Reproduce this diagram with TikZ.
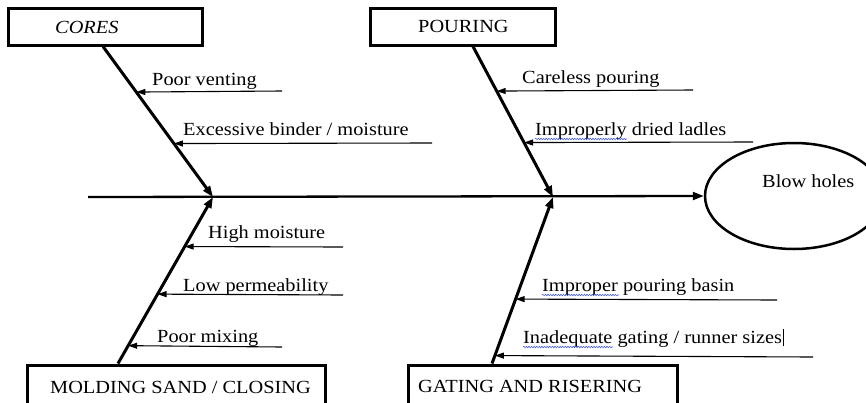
\documentclass[tikz,border=0pt]{standalone}
\usepackage{fontspec}
\setmainfont{Liberation Serif}[FakeStretch=1.1]
\usetikzlibrary{arrows.meta,shapes.geometric,calc,decorations.pathmorphing}
\definecolor{squig}{RGB}{70,90,220}
\begin{document}
\begin{tikzpicture}[x=1pt,y=-1pt,
  lbl/.style={inner sep=0pt,anchor=base west,font=\fontsize{18.5}{20}\selectfont},
  catbox/.style={draw,line width=3pt,inner sep=0pt},
  spine/.style={line width=3pt,-{Triangle[length=11pt,width=8pt]}},
  branch/.style={line width=1.1pt,-{Triangle[length=9pt,width=6pt]}},
  mainline/.style={line width=2.3pt,-{Triangle[length=11pt,width=8pt]}},
  wavy/.style={squig,line width=0.6pt,decorate,decoration={snake,amplitude=0.7pt,segment length=2.6pt}}]
\useasboundingbox (0,0) rectangle (866,402);
% category boxes
\node[catbox,minimum width=194pt,minimum height=37pt] (cores) at (105,26.5) {};
\node[catbox,minimum width=185pt,minimum height=37pt] (pour) at (462.5,26.5) {};
\node[catbox,minimum width=298pt,minimum height=50pt] (mold) at (176,390) {};
\node[catbox,minimum width=269pt,minimum height=50pt] (gate) at (542.5,390) {};
\node[lbl] (tcores) at (55,33) {\textit{CORES}};
\node[lbl] (tpour) at (418,32) {POURING};
\node[lbl] (tmold) at (50,393) {MOLDING SAND / CLOSING};
\node[lbl] (tgate) at (418,392) {GATING AND RISERING};
% effect
\node[draw,ellipse,line width=2.5pt,minimum width=178pt,minimum height=106pt,inner sep=0pt] (eff) at (794,196) {};
\node[lbl] (teff) at (762,187) {Blow holes};
% junctions
\coordinate (j1) at (213,197);
\coordinate (j2) at (553,197);
\coordinate (start) at (88,197);
\coordinate (ctop) at ($(cores.south)+(-2,0)$);
\coordinate (ptop) at ($(pour.south)+(10.5,0)$);
\coordinate (mbot) at ($(mold.north)+(-58,0)$);
\coordinate (gbot) at ($(gate.north)+(-50.5,0)$);
% main line
\draw[mainline] (start) -- (eff.west);
% spines
\draw[spine] (ctop) -- (j1);
\draw[spine] (ptop) -- (j2);
\draw[spine] (mbot) -- (j1);
\draw[spine] (gbot) -- (j2);
% branch points on spines
\coordinate (b1) at ($(ctop)!{(91-45)/152}!(j1)$);
\coordinate (b2) at ($(ctop)!{(143-45)/152}!(j1)$);
\coordinate (b3) at ($(ptop)!{(90-45)/152}!(j2)$);
\coordinate (b4) at ($(ptop)!{(142-45)/152}!(j2)$);
\coordinate (b5) at ($(j1)!{(247-197)/168}!(mbot)$);
\coordinate (b6) at ($(j1)!{(295-197)/168}!(mbot)$);
\coordinate (b7) at ($(j1)!{(347-197)/168}!(mbot)$);
\coordinate (b8) at ($(j2)!{(300-197)/168}!(gbot)$);
\coordinate (b9) at ($(j2)!{(357-197)/168}!(gbot)$);
% branch tails
\coordinate (e1) at (282,91);
\coordinate (e2) at (432,143);
\coordinate (e3) at (693,90);
\coordinate (e4) at (753,142);
\coordinate (e5) at (343,247);
\coordinate (e6) at (343,295);
\coordinate (e7) at (282,347);
\coordinate (e8) at (777,300);
\coordinate (e9) at (813,357);
\draw[branch] (e1) -- (b1);
\draw[branch] (e2) -- (b2);
\draw[branch] (e3) -- (b3);
\draw[branch] (e4) -- (b4);
\draw[branch] (e5) -- (b5);
\draw[branch] (e6) -- (b6);
\draw[branch] (e7) -- (b7);
\draw[branch] (e8) -- (b8);
\draw[branch] (e9) -- (b9);
% cause labels
\node[lbl] (t1) at (152,85) {Poor venting};
\node[lbl] (t2) at (183,135) {Excessive binder / moisture};
\node[lbl] (t3) at (522,83) {Careless pouring};
\node[lbl] (t4) at (535,135) {Improperly dried ladles};
\node[lbl] (t5) at (208,238) {High moisture};
\node[lbl] (t6) at (183,291) {Low permeability};
\node[lbl] (t7) at (157,342) {Poor mixing};
\node[lbl] (t8) at (542,291) {Improper pouring basin};
\node[lbl] (t9) at (523,343) {Inadequate gating / runner sizes};
% spell-check squiggles and caret
\draw[wavy] (535,139) -- (627,139);
\draw[wavy] (542,295) -- (619,295);
\draw[wavy] (523,347) -- (613,347);
\draw[line width=0.8pt] (t9.base east)++(1.5,3) -- ++(0,-17);
\end{tikzpicture}
\end{document}
